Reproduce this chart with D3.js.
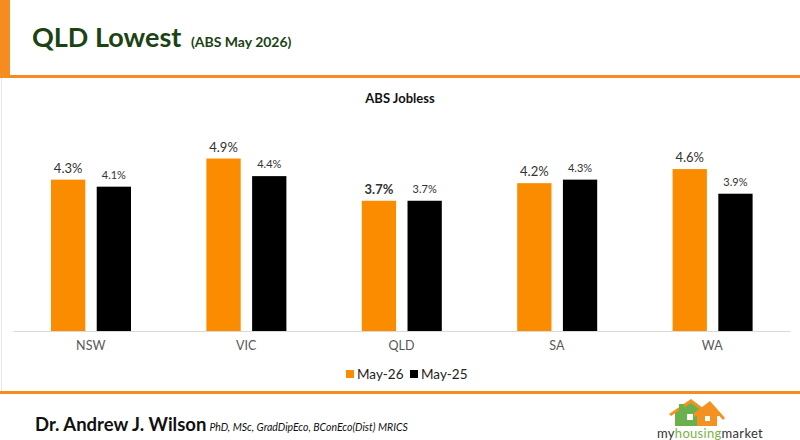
<!DOCTYPE html>
<html>
<head>
<meta charset="utf-8">
<script src="https://cdn.jsdelivr.net/npm/d3@7"></script>
<style>
  body { margin: 0; background: #fff; }
  svg { display: block; font-family: Lato, "Open Sans", sans-serif; }
</style>
</head>
<body>
<div id="chart"></div>
<script>
var width = 800
var height = 440

// data
const states = ["NSW", "VIC", "QLD", "SA", "WA"];
const seriesNames = ["May-26", "May-25"];
const may26 = [4.3, 4.9, 3.7, 4.2, 4.6];
const may25 = [4.1, 4.4, 3.7, 4.3, 3.9];
const seriesColors = ["#fb8c00", "#000000"];

const orange = "#f68b1f";

var svg = d3.select("#chart").append("svg")
    .attr("width", width)
    .attr("height", height)

// frame / header decorations
svg.append("rect").attr("x", 0).attr("y", 0).attr("width", 10).attr("height", 78).attr("fill", orange)
svg.append("rect").attr("x", 0).attr("y", 75).attr("width", width).attr("height", 3).attr("fill", orange)
svg.append("rect").attr("x", 0).attr("y", 391).attr("width", width).attr("height", 3).attr("fill", orange)
svg.append("line").attr("x1", 1.5).attr("x2", 1.5).attr("y1", 78).attr("y2", 391)
    .attr("stroke", "#e6e6e6")

const title = svg.append("text")
    .attr("x", 32).attr("y", 47)
    .attr("fill", "#1b4314")
    .style("font-weight", "bold")
title.append("tspan").style("font-size", "27px").text("QLD Lowest ")
title.append("tspan").style("font-size", "14px").attr("dx", 3).text("(ABS May 2026)")

svg.append("text")
    .attr("x", 400).attr("y", 103)
    .attr("text-anchor", "middle")
    .style("font-size", "13px").style("font-weight", "bold")
    .attr("fill", "#111")
    .text("ABS Jobless")

// chart
const baseY = 331;
const x0 = d3.scaleBand().domain(states).range([13, 790]);
const x1 = d3.scaleBand().domain(seriesNames).range([38, 118]).paddingInner(0.25);
const y = d3.scaleLinear().domain([0, 5]).range([baseY, baseY - 176]);

const rows = states.map((s, i) => ({state: s, values: [may26[i], may25[i]]}));

const groups = svg.selectAll("g.grp").data(rows).enter().append("g")
    .attr("class", "grp")
    .attr("transform", d => `translate(${x0(d.state)},0)`)

groups.selectAll("rect").data(d => d.values.map((v, j) => ({v: v, j: j, state: d.state})))
    .enter().append("rect")
    .attr("x", d => x1(seriesNames[d.j]))
    .attr("y", d => y(d.v))
    .attr("width", x1.bandwidth())
    .attr("height", d => baseY - y(d.v))
    .attr("fill", d => seriesColors[d.j])

groups.selectAll("text.val").data(d => d.values.map((v, j) => ({v: v, j: j, state: d.state})))
    .enter().append("text")
    .attr("class", "val")
    .attr("x", d => x1(seriesNames[d.j]) + x1.bandwidth() / 2)
    .attr("y", d => y(d.v) - (d.j == 0 ? 7 : 8))
    .attr("text-anchor", "middle")
    .style("font-size", d => d.j == 0 ? "13px" : "11px")
    .style("font-weight", d => (d.j == 0 && d.state == "QLD") ? "bold" : "normal")
    .attr("fill", "#333")
    .text(d => d.v.toFixed(1) + "%")

const xAxis = d3.axisBottom(x0).tickSize(0).tickPadding(10);
const xAxisG = svg.append("g").attr("transform", `translate(0,${baseY})`).call(xAxis);
xAxisG.select(".domain").attr("stroke", "#d9d9d9");
xAxisG.selectAll("text")
    .style("font-family", "Lato, 'Open Sans', sans-serif")
    .style("font-size", "12.5px")
    .attr("fill", "#595959");

// legend
const legend = svg.append("g").attr("transform", "translate(346,370)")
seriesNames.forEach((n, i) => {
    const lg = legend.append("g").attr("transform", `translate(${i * 64},0)`)
    lg.append("rect").attr("width", 8).attr("height", 8).attr("fill", seriesColors[i])
    lg.append("text").attr("x", 11).attr("y", 8.5)
        .style("font-size", "13.5px").attr("fill", "#222").text(n)
})

// footer
const footer = svg.append("text").attr("x", 35).attr("y", 431).attr("fill", "#111")
footer.append("tspan").style("font-size", "18.5px").style("font-weight", "bold").text("Dr. Andrew J. Wilson")
footer.append("tspan").attr("dx", 3).style("font-size", "10.5px").style("font-style", "italic")
    .text("PhD, MSc, GradDipEco, BConEco(Dist) MRICS")

// logo
const logo = svg.append("g").attr("transform", "translate(657,398)")
logo.append("path").attr("d", "M18,28 L18,14 L34,4 L48,14 L48,28 Z").attr("fill", "#6ab04c")
logo.append("path").attr("d", "M12,16 L34,1 L50,13 L48,15 L34,5 L14,18 Z").attr("fill", "#f39220")
logo.append("path").attr("d", "M40,28 L40,16 L53,6 L64,18 L60,18 L60,28 Z").attr("fill", "#f39220")
logo.append("path").attr("d", "M36,16 L53,3 L68,20 L66,22 L53,8 L38,19 Z").attr("fill", "#f39220")
logo.append("rect").attr("x", 22).attr("y", 6).attr("width", 5).attr("height", 9).attr("fill", "#6ab04c")
logo.append("rect").attr("x", 30).attr("y", 16).attr("width", 6).attr("height", 6).attr("fill", "#fff")
logo.append("rect").attr("x", 48).attr("y", 18).attr("width", 5).attr("height", 5).attr("fill", "#fff")
const lt = logo.append("text").attr("x", 0).attr("y", 40).style("font-size", "13px")
    .style("letter-spacing", "0.3px")
lt.append("tspan").attr("fill", "#333").text("my")
lt.append("tspan").attr("fill", "#7cb342").text("housing")
lt.append("tspan").attr("fill", "#333").text("market")
logo.append("line").attr("x1", 0).attr("x2", 106).attr("y1", 42.5).attr("y2", 42.5)
    .attr("stroke", "#888").attr("stroke-width", 0.8)
</script>
</body>
</html>
